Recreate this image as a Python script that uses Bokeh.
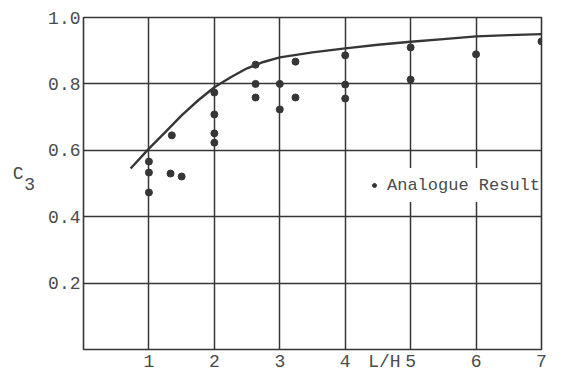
from bokeh.plotting import figure
from bokeh.models import (Range1d, FixedTicker, Legend, LegendItem,
                          PrintfTickFormatter, LinearAxis)
from bokeh.embed import file_html
from bokeh.resources import INLINE

# Analogue results (L/H, C3)
lh_points = [1.0, 1.0, 1.0, 1.33, 1.35, 1.5, 2.0, 2.0, 2.0, 2.0,
             2.63, 2.63, 2.63, 3.0, 3.0, 3.24, 3.24, 4.0, 4.0, 4.0,
             5.0, 5.0, 6.0, 7.0]
c3_points = [0.566, 0.533, 0.473, 0.530, 0.645, 0.521, 0.774, 0.708, 0.651, 0.623,
             0.858, 0.800, 0.759, 0.800, 0.723, 0.867, 0.759, 0.886, 0.798, 0.756,
             0.910, 0.813, 0.889, 0.928]

# Theoretical curve
curve_lh = [0.72, 1.0, 1.25, 1.5, 1.75, 2.0, 2.25, 2.5, 2.75, 3.0,
            3.5, 4.0, 4.5, 5.0, 5.5, 6.0, 6.5, 7.0]
curve_c3 = [0.545, 0.605, 0.655, 0.705, 0.750, 0.790, 0.820, 0.847, 0.866, 0.880,
            0.895, 0.907, 0.918, 0.927, 0.935, 0.943, 0.947, 0.950]

x_ticks = [1, 2, 3, 4, 4.6, 5, 6, 7]
x_tick_labels = {4.6: "L/H"}
y_ticks = [0.2, 0.4, 0.6, 0.8, 1.0]
x_grid = [0, 1, 2, 3, 4, 5, 6, 7]
y_grid = [0, 0.2, 0.4, 0.6, 0.8, 1.0]
y_name_main = "C"
y_name_sub = "3"
y_name_pos = 0.53

FONT = "Liberation Mono"
INK = "#363636"
TXT = "#4a4a4a"

p = figure(width=561, height=374, output_backend="svg", toolbar_location=None,
           x_range=Range1d(0, 7), y_range=Range1d(0, 1),
           min_border_left=83, min_border_right=20, min_border_top=17,
           min_border_bottom=25)
p.background_fill_color = "white"
p.border_fill_color = "white"
p.outline_line_color = INK
p.outline_line_width = 1.6

p.xaxis.ticker = FixedTicker(ticks=x_ticks)
p.xaxis.major_label_overrides = x_tick_labels
p.yaxis.ticker = FixedTicker(ticks=y_ticks)
p.yaxis.formatter = PrintfTickFormatter(format="%.1f")
p.xgrid.ticker = FixedTicker(ticks=x_grid)
p.ygrid.ticker = FixedTicker(ticks=y_grid)
for g in (p.xgrid, p.ygrid):
    g.grid_line_color = INK
    g.grid_line_width = 1.5

for ax in (p.xaxis, p.yaxis):
    ax.major_tick_line_color = None
    ax.minor_tick_line_color = None
    ax.axis_line_color = None
    ax.major_label_text_font = FONT
    ax.major_label_text_font_size = "18px"
    ax.major_label_text_color = TXT
    ax.major_label_text_line_height = 1.0
p.xaxis.major_label_standoff = -4
p.yaxis.major_label_standoff = -3

# subscript "3" as the main y axis label, "C" on an outer axis
p.yaxis.axis_label = y_name_sub
p.yaxis.axis_label_orientation = "horizontal"
p.yaxis.axis_label_text_font = FONT
p.yaxis.axis_label_text_font_size = "18px"
p.yaxis.axis_label_text_font_style = "normal"
p.yaxis.axis_label_text_color = TXT
p.yaxis.axis_label_standoff = 10

c_axis = LinearAxis(ticker=FixedTicker(ticks=[y_name_pos]),
                    major_label_overrides={y_name_pos: y_name_main},
                    major_tick_line_color=None, minor_tick_line_color=None,
                    axis_line_color=None, major_label_standoff=-8,
                    major_label_text_font=FONT, major_label_text_font_size="18px",
                    major_label_text_color=TXT)
p.add_layout(c_axis, "left")

p.line(curve_lh, curve_c3, line_color=INK, line_width=2.4)
pts = p.scatter(lh_points, c3_points, size=7, color=INK)

legend = Legend(items=[LegendItem(label="Analogue Result", renderers=[pts])],
                location=(286, 147), glyph_width=10, glyph_height=34,
                label_standoff=8, padding=0, margin=0, spacing=0,
                border_line_color=None, background_fill_color="white",
                background_fill_alpha=1.0, label_text_font=FONT,
                label_text_font_size="17px", label_text_color=TXT)
p.add_layout(legend)

open("out.html", "w").write(file_html(p, INLINE))
